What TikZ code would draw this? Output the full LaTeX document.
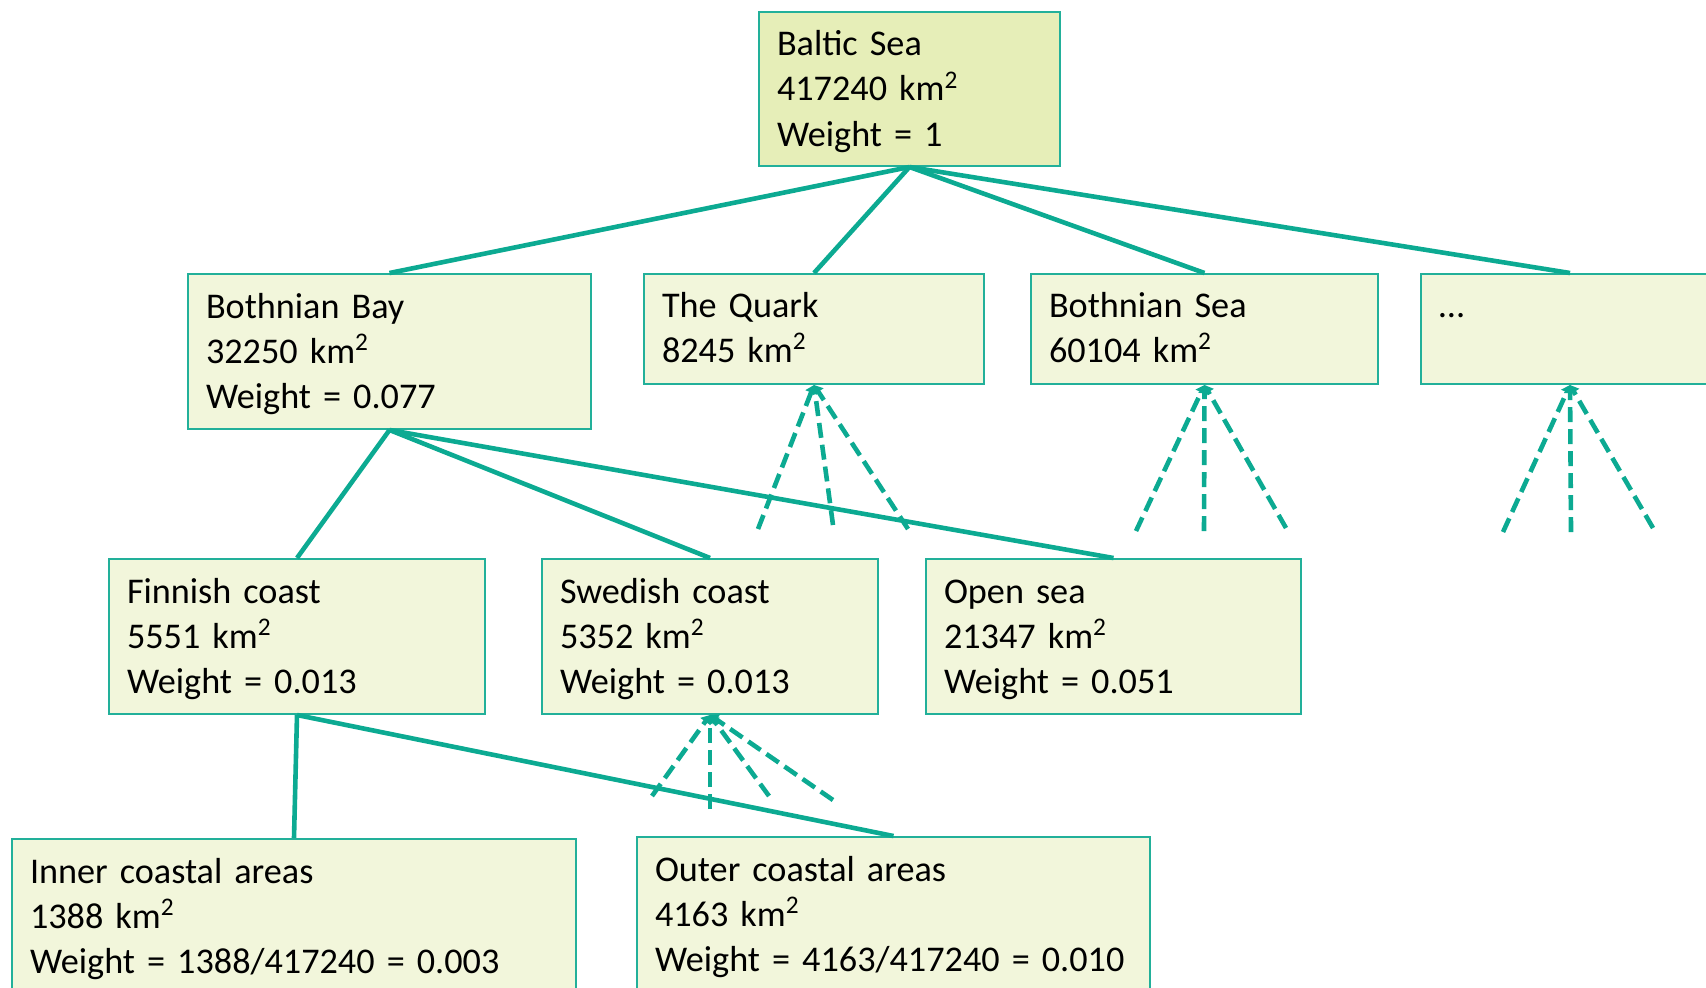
\documentclass[tikz,border=0pt]{standalone}
\usepackage{fontspec}
\setmainfont{Carlito}[WordSpace=0.95]
\usetikzlibrary{arrows.meta}

\begin{document}
\begin{tikzpicture}[x=0.5pt, y=-0.5pt,
    region/.style={draw=ciBoxLine, line width=1pt, fill=ciBoxFill, anchor=north west,
        align=left, inner xsep=9pt, inner ysep=0pt, text height=15pt,
        minimum height=77.5pt, font=\fontsize{18.1}{22.6}\selectfont},
    short/.style={text height=11pt, minimum height=55pt},
    link/.style={draw=ciLine, line width=2.3pt},
    sublink/.style={link, dash pattern=on 7.5pt off 3.5pt,
        -{Triangle[width=6pt,length=4pt]}}]
        % Farben
        \definecolor{ciLine}{HTML}{0CAA92}
        \definecolor{ciBoxLine}{HTML}{22B09A}
        \definecolor{ciBoxFill}{HTML}{F2F6DB}
        \definecolor{ciTopFill}{HTML}{E6EEB8}

        % Rahmen
        \useasboundingbox (0,0) rectangle (1706,987);
        \clip (0,0) rectangle (1706,987);

        % Ebene 0
        \node[region, fill=ciTopFill, text width=132.5pt, minimum height=77pt] (sea) at (758,11)
            {Baltic Sea\\417240 km\textsuperscript{2}\\Weight = 1};

        % Ebene 1
        \node[region, text width=183.5pt] (bay) at (187,273)
            {Bothnian Bay\\32250 km\textsuperscript{2}\\Weight = 0.077};
        \node[region, short, text width=152pt] (quark) at (643,273)
            {The Quark\\8245 km\textsuperscript{2}};
        \node[region, short, text width=155.5pt] (bsea) at (1030,273)
            {Bothnian Sea\\60104 km\textsuperscript{2}};
        \node[region, short, text width=131pt] (more) at (1420,273)
            {…\\\mbox{}};

        % Ebene 2
        \node[region, text width=170pt] (finn) at (108,558)
            {Finnish coast\\5551 km\textsuperscript{2}\\Weight = 0.013};
        \node[region, text width=150pt] (swed) at (541,558)
            {Swedish coast\\5352 km\textsuperscript{2}\\Weight = 0.013};
        \node[region, text width=169.5pt] (open) at (925,558)
            {Open sea\\21347 km\textsuperscript{2}\\Weight = 0.051};

        % Ebene 3
        \node[region, text width=264pt] (inner) at (11,838)
            {Inner coastal areas\\1388 km\textsuperscript{2}\\Weight = 1388/417240 = 0.003};
        \node[region, text width=238.5pt] (outer) at (636,836)
            {Outer coastal areas\\4163 km\textsuperscript{2}\\Weight = 4163/417240 = 0.010};

        % Verbindungen
        \foreach \t in {bay,quark,bsea,more}
            \draw[link] (sea.south) -- (\t.north);
        \foreach \t in {finn,swed,open}
            \draw[link] (bay.south) -- (\t.north);
        \foreach \t in {inner,outer}
            \draw[link] (finn.south) -- (\t.north);

        % weitere Unterteilungen (gestrichelt)
        \foreach \n/\x/\y in {qa/758/529, qb/833/525, qc/908/529,
                              ba/1136/531, bb/1204/531, bc/1286/528,
                              ma/1503/532, mb/1571/532, mc/1653/528,
                              sa/652/796, sb/710/809, sc/769/796, sd/833/800}
            \coordinate (\n) at (\x,\y);
        \foreach \n in {qa,qb,qc}
            \draw[sublink] (\n) -- (quark.south);
        \foreach \n in {ba,bb,bc}
            \draw[sublink] (\n) -- (bsea.south);
        \foreach \n in {ma,mb,mc}
            \draw[sublink] (\n) -- (more.south);
        \foreach \n in {sa,sb,sc,sd}
            \draw[sublink] (\n) -- (swed.south);
\end{tikzpicture}
\end{document}
